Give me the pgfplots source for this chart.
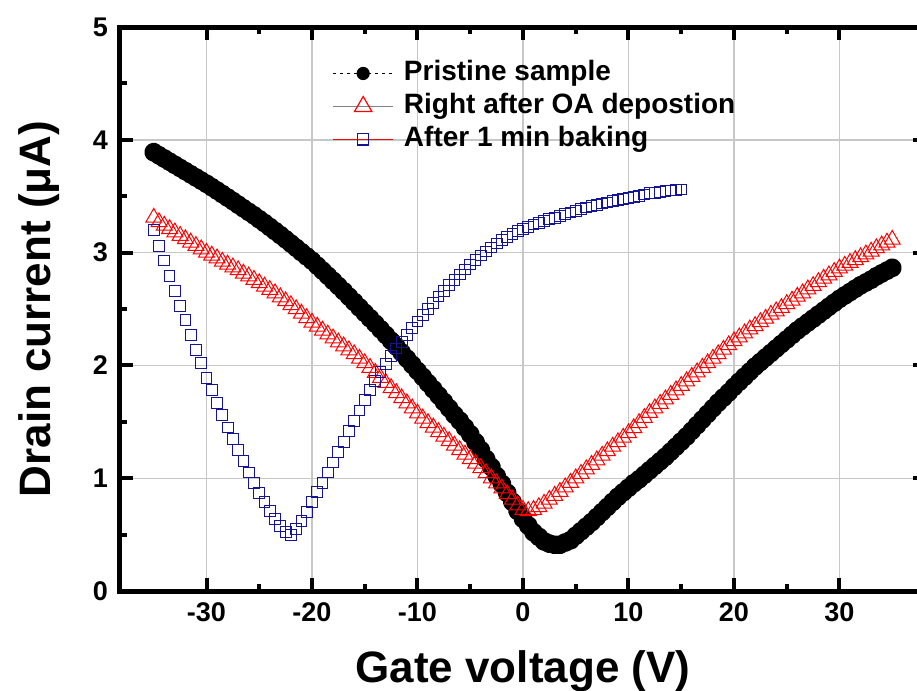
\documentclass[border=0pt]{standalone}
\usepackage{fontspec}
\setmainfont{Liberation Sans}
\usepackage{pgfplots}
\usepackage{pgfplotstable}
\pgfplotsset{compat=1.18}
\definecolor{navyblue}{RGB}{20,20,150}

% Pristine sample
\pgfplotstableread{
x y
-35 3.890
-34.5 3.862
-34 3.834
-33.5 3.806
-33 3.778
-32.5 3.750
-32 3.722
-31.5 3.694
-31 3.666
-30.5 3.638
-30 3.610
-29.5 3.580
-29 3.550
-28.5 3.519
-28 3.488
-27.5 3.457
-27 3.425
-26.5 3.393
-26 3.361
-25.5 3.330
-25 3.296
-24.5 3.262
-24 3.227
-23.5 3.191
-23 3.155
-22.5 3.118
-22 3.080
-21.5 3.042
-21 3.004
-20.5 2.966
-20 2.928
-19.5 2.884
-19 2.840
-18.5 2.795
-18 2.750
-17.5 2.704
-17 2.658
-16.5 2.610
-16 2.562
-15.5 2.514
-15 2.466
-14.5 2.418
-14 2.370
-13.5 2.320
-13 2.270
-12.5 2.219
-12 2.167
-11.5 2.114
-11 2.060
-10.5 2.006
-10 1.952
-9.5 1.898
-9 1.843
-8.5 1.788
-8 1.733
-7.5 1.677
-7 1.620
-6.5 1.562
-6 1.510
-5.5 1.450
-5 1.390
-4.5 1.320
-4 1.250
-3.5 1.170
-3 1.100
-2.5 1.020
-2 0.950
-1.5 0.870
-1 0.790
-0.5 0.710
0 0.640
0.5 0.580
1 0.520
1.5 0.480
2 0.440
2.5 0.420
3 0.410
3.5 0.410
4 0.430
4.5 0.450
5 0.490
5.5 0.530
6 0.570
6.5 0.610
7 0.655
7.5 0.700
8 0.745
8.5 0.790
9 0.835
9.5 0.875
10 0.915
10.5 0.955
11 0.990
11.5 1.030
12 1.070
12.5 1.110
13 1.150
13.5 1.190
14 1.235
14.5 1.280
15 1.325
15.5 1.370
16 1.420
16.5 1.470
17 1.520
17.5 1.570
18 1.620
18.5 1.670
19 1.715
19.5 1.760
20 1.810
20.5 1.855
21 1.900
21.5 1.945
22 1.990
22.5 2.030
23 2.070
23.5 2.110
24 2.150
24.5 2.190
25 2.230
25.5 2.270
26 2.310
26.5 2.345
27 2.380
27.5 2.415
28 2.450
28.5 2.485
29 2.520
29.5 2.555
30 2.590
30.5 2.620
31 2.650
31.5 2.680
32 2.710
32.5 2.735
33 2.760
33.5 2.790
34 2.815
34.5 2.840
35 2.865
}\pristine

% Right after OA deposition
\pgfplotstableread{
x y
-35 3.310
-34.5 3.270
-34 3.240
-33.5 3.210
-33 3.180
-32.5 3.150
-32 3.120
-31.5 3.090
-31 3.060
-30.5 3.030
-30 3.000
-29.5 2.975
-29 2.950
-28.5 2.920
-28 2.895
-27.5 2.870
-27 2.845
-26.5 2.815
-26 2.790
-25.5 2.760
-25 2.730
-24.5 2.700
-24 2.670
-23.5 2.640
-23 2.605
-22.5 2.570
-22 2.535
-21.5 2.500
-21 2.460
-20.5 2.420
-20 2.380
-19.5 2.345
-19 2.310
-18.5 2.275
-18 2.240
-17.5 2.205
-17 2.170
-16.5 2.135
-16 2.100
-15.5 2.060
-15 2.020
-14.5 1.980
-14 1.935
-13.5 1.890
-13 1.845
-12.5 1.800
-12 1.755
-11.5 1.710
-11 1.665
-10.5 1.620
-10 1.575
-9.5 1.530
-9 1.490
-8.5 1.450
-8 1.410
-7.5 1.370
-7 1.330
-6.5 1.290
-6 1.250
-5.5 1.210
-5 1.170
-4.5 1.130
-4 1.090
-3.5 1.045
-3 1.000
-2.5 0.955
-2 0.910
-1.5 0.860
-1 0.810
-0.5 0.760
0 0.720
0.5 0.710
1 0.720
1.5 0.745
2 0.775
2.5 0.810
3 0.845
3.5 0.880
4 0.920
4.5 0.960
5 1.000
5.5 1.040
6 1.080
6.5 1.120
7 1.160
7.5 1.200
8 1.240
8.5 1.280
9 1.320
9.5 1.360
10 1.400
10.5 1.445
11 1.490
11.5 1.535
12 1.580
12.5 1.620
13 1.660
13.5 1.700
14 1.740
14.5 1.780
15 1.820
15.5 1.860
16 1.900
16.5 1.940
17 1.980
17.5 2.020
18 2.060
18.5 2.100
19 2.140
19.5 2.180
20 2.215
20.5 2.250
21 2.285
21.5 2.320
22 2.350
22.5 2.385
23 2.415
23.5 2.450
24 2.480
24.5 2.510
25 2.545
25.5 2.575
26 2.610
26.5 2.640
27 2.675
27.5 2.705
28 2.740
28.5 2.770
29 2.800
29.5 2.830
30 2.860
30.5 2.885
31 2.910
31.5 2.935
32 2.960
32.5 2.985
33 3.010
33.5 3.040
34 3.065
34.5 3.090
35 3.115
}\oadep

% After 1 min baking
\pgfplotstableread{
x y
-35 3.200
-34.5 3.060
-34 2.930
-33.5 2.790
-33 2.660
-32.5 2.530
-32 2.400
-31.5 2.270
-31 2.140
-30.5 2.020
-30 1.890
-29.5 1.780
-29 1.670
-28.5 1.560
-28 1.450
-27.5 1.350
-27 1.250
-26.5 1.150
-26 1.050
-25.5 0.960
-25 0.870
-24.5 0.790
-24 0.710
-23.5 0.640
-23 0.575
-22.5 0.520
-22 0.500
-21.5 0.550
-21 0.620
-20.5 0.700
-20 0.790
-19.5 0.875
-19 0.960
-18.5 1.050
-18 1.140
-17.5 1.230
-17 1.320
-16.5 1.415
-16 1.510
-15.5 1.600
-15 1.690
-14.5 1.780
-14 1.860
-13.5 1.940
-13 2.015
-12.5 2.085
-12 2.150
-11.5 2.210
-11 2.270
-10.5 2.330
-10 2.390
-9.5 2.445
-9 2.500
-8.5 2.555
-8 2.610
-7.5 2.660
-7 2.710
-6.5 2.760
-6 2.805
-5.5 2.850
-5 2.895
-4.5 2.935
-4 2.975
-3.5 3.010
-3 3.045
-2.5 3.080
-2 3.110
-1.5 3.140
-1 3.165
-0.5 3.190
0 3.210
0.5 3.230
1 3.250
1.5 3.265
2 3.280
2.5 3.295
3 3.310
3.5 3.325
4 3.340
4.5 3.355
5 3.370
5.5 3.385
6 3.400
6.5 3.410
7 3.420
7.5 3.435
8 3.445
8.5 3.455
9 3.465
9.5 3.475
10 3.485
10.5 3.495
11 3.505
11.5 3.515
12 3.525
12.5 3.530
13 3.540
13.5 3.545
14 3.550
14.5 3.555
15 3.560
}\baking

\begin{document}
\begin{tikzpicture}
\path[use as bounding box] (-60pt,-50pt) rectangle (398.5pt,295.5pt);
\begin{axis}[
  at={(0pt,0pt)}, anchor=south west,
  scale only axis, width=403pt, height=282pt,
  xmin=-38.2, xmax=38.2, ymin=0, ymax=5,
  xtick={-30,-20,...,30}, ytick={0,1,...,5},
  minor x tick num=1, minor y tick num=1,
  tick align=inside,
  major tick length=6.5pt, minor tick length=3.5pt,
  every tick/.style={black, line width=2pt},
  axis line style={line width=2.5pt},
  grid=major,
  major grid style={line width=0.7pt, color=black!22},
  /pgf/number format/assume math mode=true,
  tick label style={font=\bfseries\fontsize{13.5}{16}\selectfont},
  xticklabel style={yshift=-2.5pt},
  yticklabel style={xshift=-2.5pt},
  label style={font=\bfseries\fontsize{22}{26}\selectfont},
  xlabel={Gate voltage (V)},
  ylabel={Drain current (μA)},
  xlabel style={at={(axis description cs:0.5,0)}, anchor=base, yshift=-45.5pt},
  ylabel style={at={(axis description cs:-0.0868,0.5)}, anchor=base},
  legend image code/.code={\draw[mark repeat=2,mark phase=2,#1] plot coordinates {(0pt,0pt) (15pt,0pt) (30pt,0pt)};},
  legend cell align=left,
  legend style={at={(axis description cs:0.263,0.944)}, anchor=north west,
    draw=none, fill=none, inner sep=0pt, row sep=2pt, column sep=5pt,
    font=\bfseries\fontsize{14}{17}\selectfont,
    nodes={inner sep=0pt, text height=11pt, text depth=3.5pt}},
]
\addlegendimage{black, line width=0.6pt, dash pattern=on 1.5pt off 2pt, mark=*, mark size=3pt, mark options={solid}}
\addlegendentry{Pristine sample}
\addlegendimage{black!50, line width=0.8pt, mark=triangle, mark size=5pt, mark options={red, line width=0.6pt}}
\addlegendentry{Right after OA depostion}
\addlegendimage{red, line width=0.8pt, mark=square, mark size=2.8pt, mark options={navyblue, line width=0.6pt}}
\addlegendentry{After 1 min baking}

% dense filled circles: drawn as a band as wide as the marks
\addplot[black, line width=4.8pt, line join=round, line cap=round, mark=*, mark size=2.4pt, forget plot] table {\pristine};
\addplot[only marks, mark=triangle, mark size=4.6pt, red, line width=0.5pt, forget plot] table {\oadep};
\addplot[only marks, mark=square, mark size=2.7pt, navyblue, line width=0.5pt, forget plot] table {\baking};
\end{axis}
\end{tikzpicture}
\end{document}
